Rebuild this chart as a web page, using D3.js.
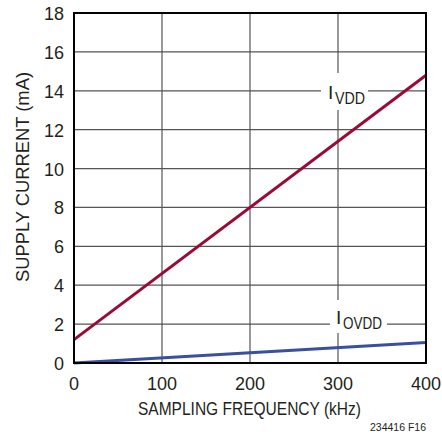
<!DOCTYPE html>
<html><head><meta charset="utf-8">
<script src="https://cdn.jsdelivr.net/npm/d3@7"></script>
<style>body{margin:0;background:#fff}svg{display:block}text{font-family:"Liberation Sans Narrow","Arial Narrow","Liberation Sans",sans-serif;fill:#231f20}</style>
</head><body><svg id="c" width="442" height="435"></svg>
<script>
const xTicks=[0,100,200,300,400];
const yTicks=[0,2,4,6,8,10,12,14,16,18];
const freq=[0,400];
const ivdd=[1.2,14.8];
const iovdd=[0,1.05];
const svg=d3.select("#c");
const m={l:74,t:13,r:426,b:363};
const x=d3.scaleLinear().domain([0,400]).range([m.l,m.r]);
const y=d3.scaleLinear().domain([0,18]).range([m.b,m.t]);
const g=svg.append("g");
// grid
g.selectAll(".gx").data(xTicks.slice(1,-1)).enter().append("line")
 .attr("x1",d=>x(d)).attr("x2",d=>x(d)).attr("y1",m.t).attr("y2",m.b).attr("stroke","#555").attr("stroke-width",1.2);
g.selectAll(".gy").data(yTicks.slice(1,-1)).enter().append("line")
 .attr("y1",d=>y(d)).attr("y2",d=>y(d)).attr("x1",m.l).attr("x2",m.r).attr("stroke","#555").attr("stroke-width",1.2);
// labels with white backgrounds
function label(main,sub,x0,x1,y0,y1,tx,ty,subW){
  g.append("rect").attr("x",x0).attr("y",y0).attr("width",x1-x0).attr("height",y1-y0).attr("fill","#fff");
  g.append("text").attr("x",tx).attr("y",ty).attr("font-size",19).text(main);
  g.append("text").attr("x",tx+7).attr("y",ty+5).attr("font-size",17).attr("textLength",subW).attr("lengthAdjust","spacingAndGlyphs").text(sub);
}
label("I","VDD",321,368,73,110,328,99,30);
label("I","OVDD",330,387,300,333,336,324,39);
// lines
const line=d3.line().x(d=>x(d[0])).y(d=>y(d[1]));
g.append("path").attr("d",line(freq.map((f,i)=>[f,iovdd[i]]))).attr("stroke","#3a4fa0").attr("stroke-width",3).attr("fill","none");
g.append("path").attr("d",line(freq.map((f,i)=>[f,ivdd[i]]))).attr("stroke","#9b0a37").attr("stroke-width",3).attr("fill","none");
// frame
g.append("rect").attr("x",m.l).attr("y",m.t).attr("width",m.r-m.l).attr("height",m.b-m.t).attr("fill","none").attr("stroke","#000").attr("stroke-width",2);
// tick labels
svg.selectAll(".xt").data(xTicks).enter().append("text").attr("x",d=>x(d)).attr("y",390).attr("text-anchor","middle").attr("font-size",18).text(d=>d);
svg.selectAll(".yt").data(yTicks).enter().append("text").attr("x",64).attr("y",d=>y(d)+7).attr("text-anchor","end").attr("font-size",18).text(d=>d);
svg.append("text").attr("x",138).attr("y",415).attr("font-size",19).attr("textLength",223).attr("lengthAdjust","spacingAndGlyphs").text("SAMPLING FREQUENCY (kHz)");
svg.append("text").attr("transform",`translate(29,282) rotate(-90)`).attr("font-size",19).attr("textLength",210).attr("lengthAdjust","spacingAndGlyphs").text("SUPPLY CURRENT (mA)");
svg.append("text").attr("x",426).attr("y",431).attr("text-anchor","end").attr("font-size",11).attr("textLength",56).attr("lengthAdjust","spacingAndGlyphs").text("234416 F16");
</script></body></html>
